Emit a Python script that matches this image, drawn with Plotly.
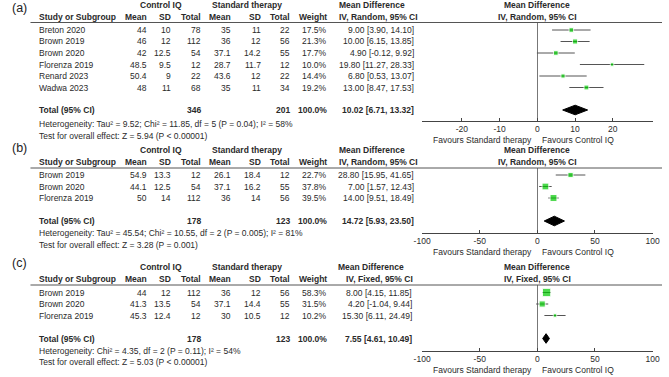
import math
import plotly.graph_objects as go

W, H = 669, 377

# ---------------- data ----------------
# Panel (a)
studies_a = ["Breton 2020", "Brown 2019", "Brown 2020", "Florenza 2019", "Renard 2023", "Wadwa 2023"]
ciq_mean_a = [44, 46, 42, 48.5, 50.4, 48]
ciq_sd_a = [10, 12, 12.5, 9.5, 9, 11]
ciq_n_a = [78, 112, 54, 12, 22, 68]
std_mean_a = [35, 36, 37.1, 28.7, 43.6, 35]
std_sd_a = [11, 12, 14.2, 11.7, 12, 11]
std_n_a = [22, 56, 55, 12, 22, 34]
weight_a = [17.5, 21.3, 17.7, 10.0, 14.4, 19.2]
md_a = [9.00, 10.00, 4.90, 19.80, 6.80, 13.00]
lo_a = [3.90, 6.15, -0.12, 11.27, 0.53, 8.47]
hi_a = [14.10, 13.85, 9.92, 28.33, 13.07, 17.53]
total_a = [10.02, 6.71, 13.32]
total_n_a = [346, 201]
het_a = "Heterogeneity: Tau² = 9.52; Chi² = 11.85, df = 5 (P = 0.04); I² = 58%"
test_a = "Test for overall effect: Z = 5.94 (P < 0.00001)"
ticks_a = [-20, -10, 0, 10, 20]

# Panel (b)
studies_b = ["Brown 2019", "Brown 2020", "Florenza 2019"]
ciq_mean_b = [54.9, 44.1, 50]
ciq_sd_b = [13.3, 12.5, 14]
ciq_n_b = [12, 54, 112]
std_mean_b = [26.1, 37.1, 36]
std_sd_b = [18.4, 16.2, 14]
std_n_b = [12, 55, 56]
weight_b = [22.7, 37.8, 39.5]
md_b = [28.80, 7.00, 14.00]
lo_b = [15.95, 1.57, 9.51]
hi_b = [41.65, 12.43, 18.49]
total_b = [14.72, 5.93, 23.50]
total_n_b = [178, 123]
het_b = "Heterogeneity: Tau² = 45.54; Chi² = 10.55, df = 2 (P = 0.005); I² = 81%"
test_b = "Test for overall effect: Z = 3.28 (P = 0.001)"
ticks_b = [-100, -50, 0, 50, 100]

# Panel (c)
studies_c = ["Brown 2019", "Brown 2020", "Florenza 2019"]
ciq_mean_c = [44, 41.3, 45.3]
ciq_sd_c = [12, 13.5, 12.4]
ciq_n_c = [112, 54, 12]
std_mean_c = [36, 37.1, 30]
std_sd_c = [12, 14.4, 10.5]
std_n_c = [56, 55, 12]
weight_c = [58.3, 31.5, 10.2]
md_c = [8.00, 4.20, 15.30]
lo_c = [4.15, -1.04, 6.11]
hi_c = [11.85, 9.44, 24.49]
total_c = [7.55, 4.61, 10.49]
total_n_c = [178, 123]
het_c = "Heterogeneity: Chi² = 4.35, df = 2 (P = 0.11); I² = 54%"
test_c = "Test for overall effect: Z = 5.03 (P < 0.00001)"
ticks_c = [-100, -50, 0, 50, 100]

# ---------------- layout helpers ----------------
FONT = "Liberation Sans, Arial, sans-serif"
TXT = "#2a2a2a"
FS = 8.5
GREEN = "#00C800"


def px(x):
    return x / W


def py(y):
    return 1 - y / H


annotations = []
shapes = []


def text(x, y, s, anchor="left", size=FS, bold=False, color=TXT):
    annotations.append(dict(
        x=px(x), y=py(y), xref="paper", yref="paper",
        text=("<b>%s</b>" % s) if bold else s,
        showarrow=False, xanchor=anchor, yanchor="middle",
        font=dict(family=FONT, size=size, color=color), borderpad=0,
    ))


def fmt(v):
    return ("%g" % v)


def ci_str(m, l, h):
    return "%.2f [%.2f, %.2f]" % (m, l, h)


panels = [
    dict(label="(a)", model="IV, Random, 95% CI",
         studies=studies_a, cm=ciq_mean_a, cs=ciq_sd_a, cn=ciq_n_a,
         sm=std_mean_a, ss=std_sd_a, sn=std_n_a, w=weight_a,
         md=md_a, lo=lo_a, hi=hi_a, tot=total_a, totn=total_n_a,
         het=het_a, test=test_a, ticks=ticks_a, rng=[-30.7, 30.7],
         label_y=8, h1=5.5, h2=17, line=22.5, row0=30, step=11.5,
         total_y=110, het_y=123.5, test_y=136, axis_y=121,
         ci_right=416, ci_h_left=338, model_left=338),
    dict(label="(b)", model="IV, Random, 95% CI",
         studies=studies_b, cm=ciq_mean_b, cs=ciq_sd_b, cn=ciq_n_b,
         sm=std_mean_b, ss=std_sd_b, sn=std_n_b, w=weight_b,
         md=md_b, lo=lo_b, hi=hi_b, tot=total_b, totn=total_n_b,
         het=het_b, test=test_b, ticks=ticks_b, rng=[-100.5, 100.5],
         label_y=148, h1=150.5, h2=162, line=168, row0=175, step=11.5,
         total_y=221, het_y=233, test_y=245, axis_y=233,
         ci_right=416, ci_h_left=338, model_left=338),
    dict(label="(c)", model="IV, Fixed, 95% CI",
         studies=studies_c, cm=ciq_mean_c, cs=ciq_sd_c, cn=ciq_n_c,
         sm=std_mean_c, ss=std_sd_c, sn=std_n_c, w=weight_c,
         md=md_c, lo=lo_c, hi=hi_c, tot=total_c, totn=total_n_c,
         het=het_c, test=test_c, ticks=ticks_c, rng=[-100.5, 100.5],
         label_y=263, h1=267, h2=279, line=285, row0=292.5, step=11.5,
         total_y=338.5, het_y=350.5, test_y=361.5, axis_y=351,
         ci_right=414, ci_h_left=337, model_left=345),
]

# column right edges (px)
COL_CM, COL_CS, COL_CN = 143, 168, 198
COL_SM, COL_SS, COL_SN = 229, 260, 290
COL_W = 327
STUDY_X = 31
PLOT_L, PLOT_R = 423, 660
ZERO_X = (PLOT_L + PLOT_R) / 2

fig = go.Figure()
layout_axes = {}

for i, p in enumerate(panels):
    k = "" if i == 0 else str(i + 1)
    xa, ya = "x" + k, "y" + k
    # ---- table text ----
    text(3, p["label_y"], p["label"], size=12.5, color="#222")
    text(157, p["h1"], "Control IQ", anchor="center", bold=True)
    text(244, p["h1"], "Standard therapy", anchor="center", bold=True)
    text(p["ci_h_left"], p["h1"], "Mean Difference", bold=True)
    text(ZERO_X, p["h1"], "Mean Difference", anchor="center", bold=True)
    text(STUDY_X, p["h2"], "Study or Subgroup", bold=True)
    for xr, s in [(COL_CM, "Mean"), (COL_CS, "SD"), (COL_CN, "Total"),
                  (COL_SM, "Mean"), (COL_SS, "SD"), (COL_SN, "Total"), (COL_W, "Weight")]:
        text(xr, p["h2"], s, anchor="right", bold=True)
    text(p["model_left"], p["h2"], p["model"], bold=True)
    text(ZERO_X, p["h2"], p["model"], anchor="center", bold=True)
    shapes.append(dict(type="line", xref="paper", yref="paper",
                       x0=px(23), x1=1, y0=py(p["line"]), y1=py(p["line"]),
                       line=dict(color="#555", width=1)))
    n = len(p["studies"])
    rows_y = [p["row0"] + j * p["step"] for j in range(n)]
    for j in range(n):
        y = rows_y[j]
        text(STUDY_X, y, p["studies"][j])
        text(COL_CM, y, fmt(p["cm"][j]), anchor="right")
        text(COL_CS, y, fmt(p["cs"][j]), anchor="right")
        text(COL_CN, y, fmt(p["cn"][j]), anchor="right")
        text(COL_SM, y, fmt(p["sm"][j]), anchor="right")
        text(COL_SS, y, fmt(p["ss"][j]), anchor="right")
        text(COL_SN, y, fmt(p["sn"][j]), anchor="right")
        text(COL_W, y, "%.1f%%" % p["w"][j], anchor="right")
        text(p["ci_right"], y, ci_str(p["md"][j], p["lo"][j], p["hi"][j]), anchor="right")
    ty = p["total_y"]
    text(STUDY_X, ty, "Total (95% CI)", bold=True)
    text(COL_CN, ty, str(p["totn"][0]), anchor="right", bold=True)
    text(COL_SN, ty, str(p["totn"][1]), anchor="right", bold=True)
    text(COL_W, ty, "100.0%", anchor="right", bold=True)
    text(p["ci_right"], ty, ci_str(*p["tot"]), anchor="right", bold=True)
    text(STUDY_X, p["het_y"], p["het"])
    text(STUDY_X, p["test_y"], p["test"])
    fav_y = p["axis_y"] + 18.5
    text(ZERO_X - 4, fav_y, "Favours Standard therapy", anchor="right")
    text(ZERO_X + 4, fav_y, "Favours Control IQ", anchor="left")

    # ---- forest plot ----
    fig.add_trace(go.Scatter(
        x=p["md"], y=rows_y, mode="markers", xaxis=xa, yaxis=ya,
        marker=dict(symbol="square", color=GREEN,
                    size=[1.1 * math.sqrt(w) for w in p["w"]]),
        error_x=dict(type="data", symmetric=False,
                     array=[h - m for h, m in zip(p["hi"], p["md"])],
                     arrayminus=[m - l for m, l in zip(p["md"], p["lo"])],
                     color="#555", thickness=1, width=0),
        showlegend=False, hoverinfo="skip"))
    est, lo, hi = p["tot"]
    dh = 4.8
    fig.add_trace(go.Scatter(
        x=[lo, est, hi, est, lo], y=[ty, ty - dh, ty, ty + dh, ty],
        mode="lines", fill="toself", fillcolor="black",
        line=dict(color="black", width=1), xaxis=xa, yaxis=ya,
        showlegend=False, hoverinfo="skip"))

    layout_axes["xaxis" + k] = dict(
        domain=[px(PLOT_L), px(PLOT_R)], range=p["rng"], anchor=ya,
        tickvals=p["ticks"], ticktext=[str(t) for t in p["ticks"]],
        showline=True, linecolor="#444", linewidth=1,
        ticks="inside", ticklen=3, tickcolor="#444", tickwidth=1,
        zeroline=True, zerolinecolor="#777", zerolinewidth=1,
        showgrid=False, fixedrange=True,
        tickfont=dict(family=FONT, size=FS, color=TXT))
    layout_axes["yaxis" + k] = dict(
        domain=[py(p["axis_y"]), py(p["line"])],
        range=[p["axis_y"], p["line"]], anchor=xa,
        visible=False, showgrid=False, zeroline=False, fixedrange=True)

fig.update_layout(
    width=W, height=H, margin=dict(l=0, r=0, t=0, b=0),
    paper_bgcolor="white", plot_bgcolor="rgba(0,0,0,0)",
    annotations=annotations, shapes=shapes, **layout_axes)

fig.write_html("out.html", config={"displayModeBar": False})
